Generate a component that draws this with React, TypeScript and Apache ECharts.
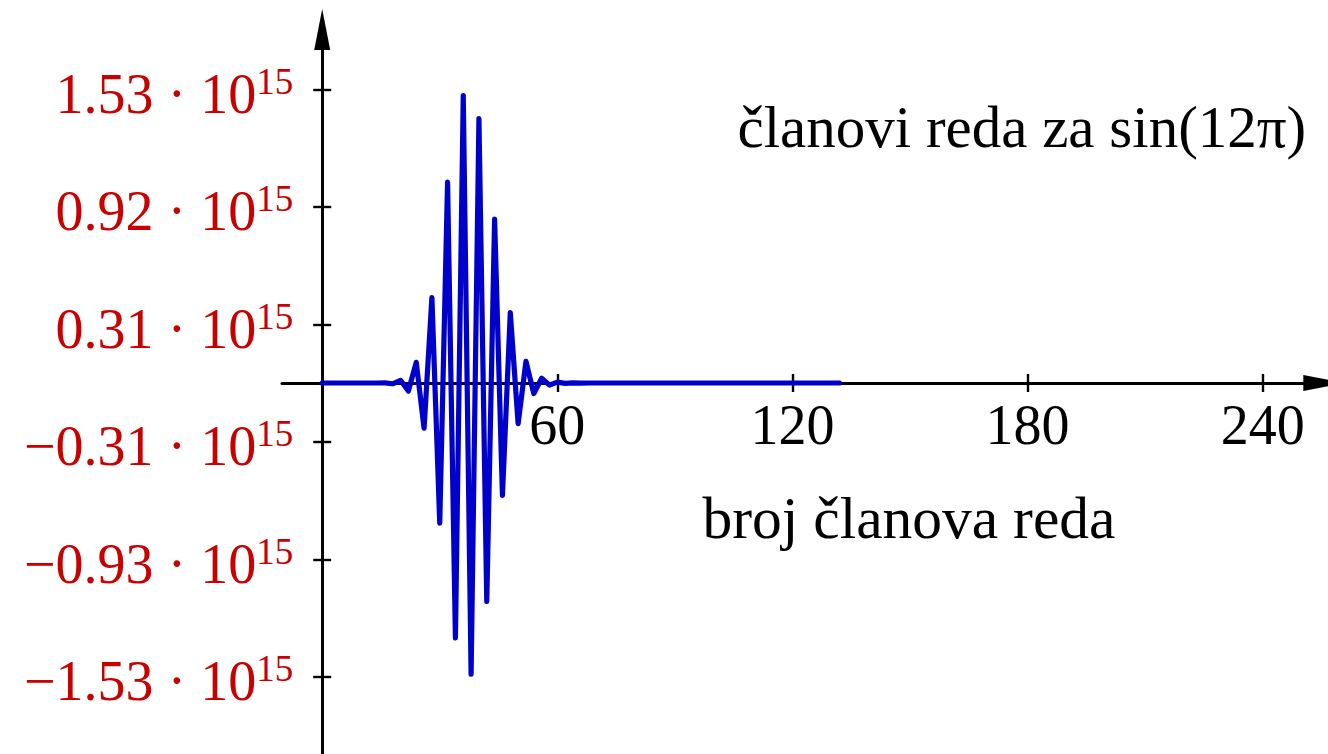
import React, { useEffect, useRef } from "react";
import * as echarts from "echarts";

// ---- data (values in units of 10^15) ----
const termIndex = [
  0, 2, 4, 6, 8, 10, 12, 14, 16, 18, 20, 22, 24, 26, 28, 30, 32, 34, 36, 38,
  40, 42, 44, 46, 48, 50, 52, 54, 56, 58, 60, 62, 64, 66, 68, 70, 72, 74, 76,
  78, 80, 82, 84, 86, 88, 90, 92, 94, 96, 98, 100, 102, 104, 106, 108, 110,
  112, 114, 116, 118, 120, 122, 124, 126, 128, 130, 132,
];
const termValues = [
  0, 0, 0, 0, 0, 0, 0, -0.0001, 0.0008, -0.004, 0.014, -0.042, 0.108, -0.236,
  0.446, -0.732, 1.048, -1.33, 1.5, -1.52, 1.38, -1.14, 0.855, -0.587, 0.368,
  -0.212, 0.113, -0.055, 0.025, -0.011, 0.0045, -0.0017, 0.0006, -0.0002, 0, 0,
  0, 0, 0, 0, 0, 0, 0, 0, 0, 0, 0, 0, 0, 0, 0, 0, 0, 0, 0, 0, 0, 0, 0, 0, 0, 0,
  0, 0, 0, 0, 0,
];
const xTickValues = [60, 120, 180, 240];
const xTickLabels = ["60", "120", "180", "240"];
const yTickValues = [1.533, 0.92, 0.3066, -0.3066, -0.92, -1.533];
const yTickLabels = ["1.53", "0.92", "0.31", "\u22120.31", "\u22120.93", "\u22121.53"];
const yExponent = "15";
const titleText = "članovi reda za sin(12π)";
const xNameText = "broj članova reda";

// ---- layout ----
const W = 1328;
const H = 754;
const GRID_LEFT = 282;
const GRID_RIGHT_X = 1303.3;
const GRID_TOP = 50;
const X_MIN = -10.25;
const X_MAX = 250.35;
const Y_MIN = -1.9363;
const Y_MAX = 1.738;
const AXIS_X = 322.2; // pixel position of the y axis line (x = 0)
const AXIS_Y = 383; // pixel position of the x axis line (y = 0)
const FONT = "'Liberation Serif', 'DejaVu Serif', serif";
const RED = "#c80000";
const BLUE = "#0000cd";

function nearestLabel(values: number[], labels: string[], v: number) {
  let best = 0;
  for (let i = 1; i < values.length; i++) {
    if (Math.abs(values[i] - v) < Math.abs(values[best] - v)) best = i;
  }
  return labels[best];
}

export default function App() {
  const ref = useRef<HTMLDivElement>(null);
  useEffect(() => {
    if (!ref.current) return;
    const chart = echarts.init(ref.current, undefined, { renderer: "svg" });
    const axisLineStyle = { color: "#000", width: 3 };
    const tickStyle = { color: "#000", width: 2.4 };
    const option: any = {
      animation: false,
      grid: {
        left: GRID_LEFT,
        right: W - GRID_RIGHT_X,
        top: GRID_TOP,
        bottom: 0,
        containLabel: false,
        outerBoundsMode: "none",
      },
      xAxis: [
        {
          type: "value",
          min: X_MIN,
          max: X_MAX,
          position: "bottom",
          offset: -(H - AXIS_Y),
          axisLine: {
            onZero: false,
            lineStyle: axisLineStyle,
            symbol: ["none", "triangle"],
            symbolSize: [16, 41],
            symbolOffset: [0, 20.5],
          },
          axisTick: { show: true, length: 9, customValues: xTickValues, lineStyle: tickStyle },
          axisLabel: {
            customValues: xTickValues,
            margin: 14,
            color: "#000",
            fontSize: 56,
            lineHeight: 56,
            fontFamily: FONT,
            formatter: (v: number) => nearestLabel(xTickValues, xTickLabels, v),
          },
          splitLine: { show: false },
        },
        {
          type: "value",
          min: X_MIN,
          max: X_MAX,
          position: "top",
          offset: -(AXIS_Y - GRID_TOP),
          axisLine: { show: false, onZero: false },
          axisTick: { show: true, length: 9, customValues: xTickValues, lineStyle: tickStyle },
          axisLabel: { show: false },
          splitLine: { show: false },
        },
      ],
      yAxis: [
        {
          type: "value",
          min: Y_MIN,
          max: Y_MAX,
          position: "left",
          offset: -(AXIS_X - GRID_LEFT),
          axisLine: {
            onZero: false,
            lineStyle: axisLineStyle,
            symbol: ["none", "triangle"],
            symbolSize: [16, 41],
            symbolOffset: [0, 20.5],
          },
          axisTick: { show: true, length: 9, customValues: yTickValues, lineStyle: tickStyle },
          axisLabel: {
            customValues: yTickValues,
            margin: 29,
            formatter: (v: number) =>
              `{m|${nearestLabel(yTickValues, yTickLabels, v)} · 10}{s|${yExponent}}`,
            rich: {
              m: { fontSize: 56, lineHeight: 56, fontFamily: FONT, color: RED, padding: [9, 0, 0, 0] },
              s: { fontSize: 37, lineHeight: 37, fontFamily: FONT, color: RED, padding: [0, 0, 16, 0] },
            },
          },
          splitLine: { show: false },
        },
        {
          type: "value",
          min: Y_MIN,
          max: Y_MAX,
          position: "right",
          offset: -(GRID_RIGHT_X - AXIS_X),
          axisLine: { show: false, onZero: false },
          axisTick: { show: true, length: 9, customValues: yTickValues, lineStyle: tickStyle },
          axisLabel: { show: false },
          splitLine: { show: false },
        },
      ],
      graphic: [
        {
          type: "text",
          x: 737.5,
          y: 126.8,
          style: {
            text: titleText,
            font: `59px ${FONT}`,
            fill: "#000",
            align: "left",
            verticalAlign: "middle",
          },
        },
        {
          type: "text",
          x: 702.5,
          y: 518.4,
          style: {
            text: xNameText,
            font: `59.5px ${FONT}`,
            fill: "#000",
            align: "left",
            verticalAlign: "middle",
          },
        },
      ],
      series: [
        {
          type: "line",
          xAxisIndex: 0,
          yAxisIndex: 0,
          data: termIndex.map((x, i) => [x, termValues[i]]),
          showSymbol: false,
          symbol: "none",
          lineStyle: { color: BLUE, width: 5.2, cap: "round", join: "round" },
          z: 5,
        },
      ],
    };
    chart.setOption(option);
    return () => chart.dispose();
  }, []);
  return (
    <div
      ref={ref}
      style={{ position: "fixed", left: 0, top: 0, width: W, height: H, background: "#fff" }}
    />
  );
}
